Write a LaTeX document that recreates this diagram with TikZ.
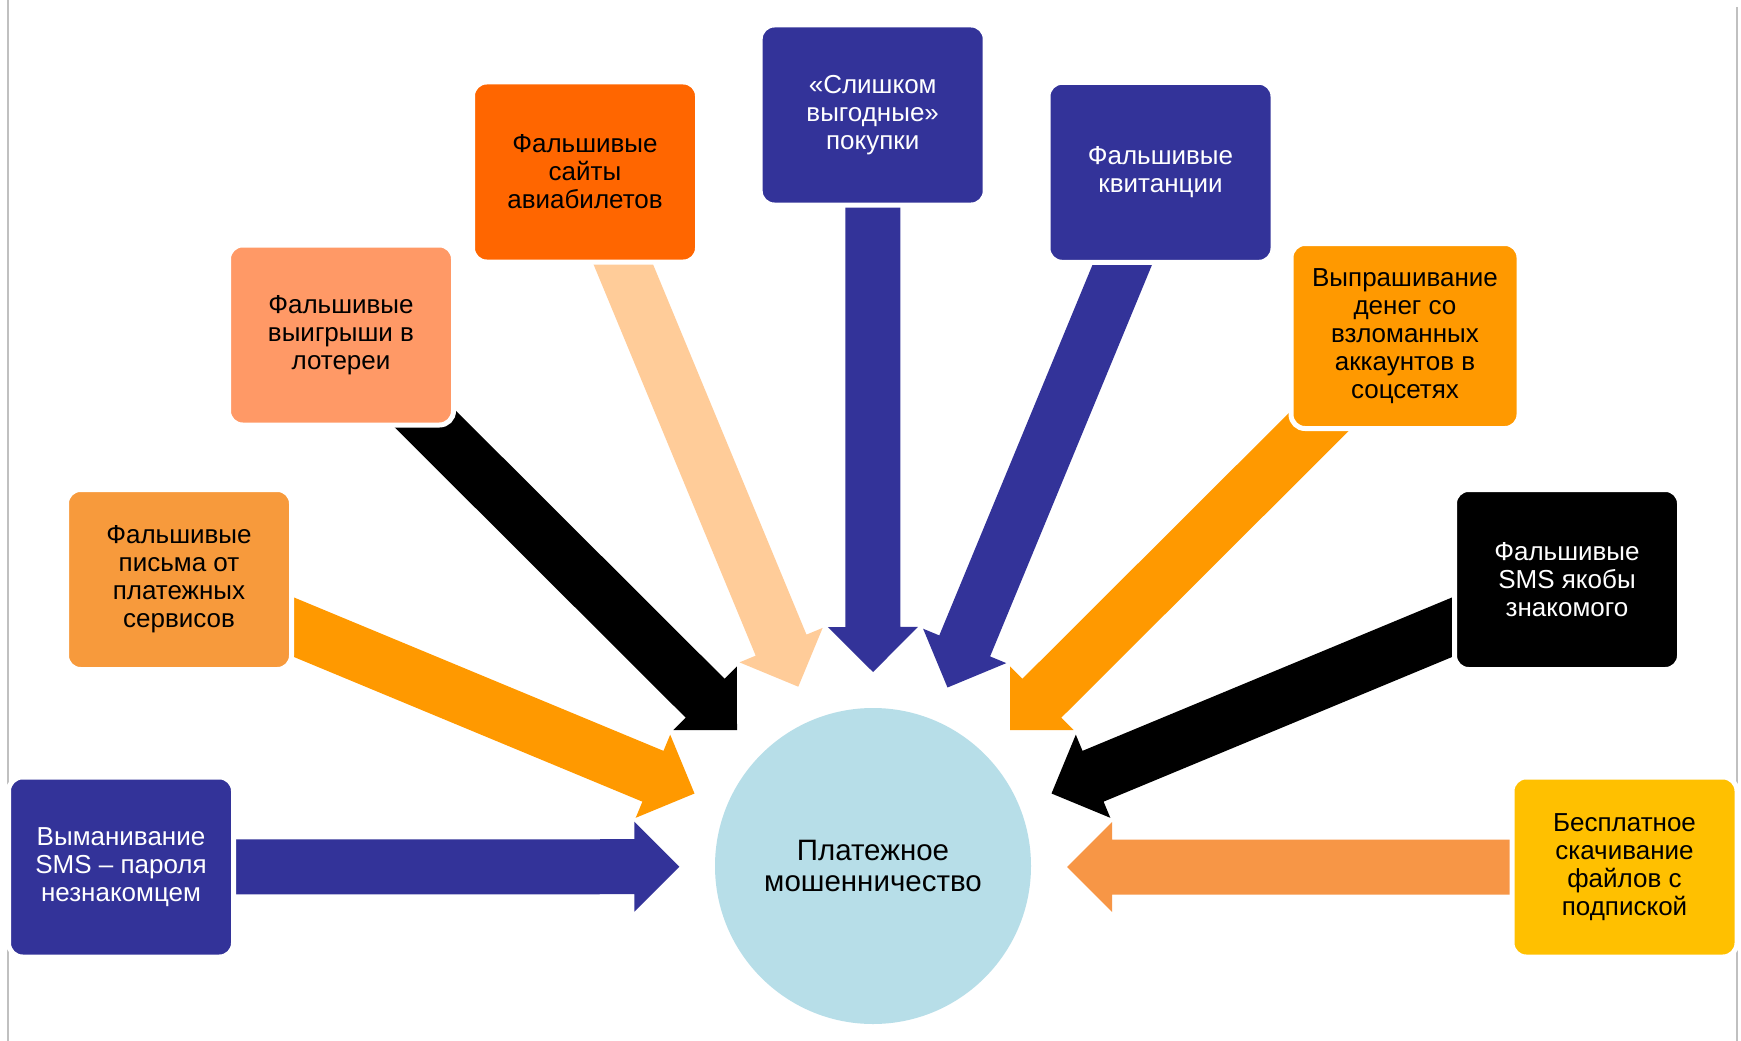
\documentclass[tikz,border=0pt]{standalone}
\usepackage{fontspec}
\setmainfont{Liberation Sans}
\usetikzlibrary{calc}
\definecolor{dblue}{HTML}{333399}
\definecolor{boxorange}{HTML}{F79A3C}
\definecolor{salmon}{HTML}{FF9966}
\definecolor{redorange}{HTML}{FF6600}
\definecolor{amber}{HTML}{FF9900}
\definecolor{gold}{HTML}{FFC000}
\definecolor{peach}{HTML}{FFCC99}
\definecolor{arrorange}{HTML}{F79646}
\definecolor{lblue}{HTML}{B7DEE8}
\definecolor{sideline}{HTML}{C0C0C0}
\pgfdeclarelayer{bg}
\pgfsetlayers{bg,main}
\newcommand\blockarrow[3]{%
  \path ($(#3)!45pt!(#2.center)$) coordinate (hb);
  \fill[#1] (#3) -- ($(hb)!45pt!90:(#3)$) -- ($(hb)!27.5pt!90:(#3)$)
    -- ($(#2.center)!27.5pt!90:(#3)$) -- ($(#2.center)!27.5pt!-90:(#3)$)
    -- ($(hb)!27.5pt!-90:(#3)$) -- ($(hb)!45pt!-90:(#3)$) -- cycle;
}
\begin{document}
\begin{tikzpicture}[x=1pt,y=-1pt,
  box/.style={rectangle, rounded corners=14pt, draw=white, line width=5pt,
    minimum width=225pt, minimum height=180pt, align=center, inner sep=0pt,
    font=\fontsize{26pt}{28pt}\selectfont},
  darkbox/.style={box, text=white},
  lightbox/.style={box, text=black},
  hub/.style={circle, fill=lblue, minimum size=316pt, inner sep=0pt,
    align=center, font=\fontsize{29.5pt}{31pt}\selectfont},
  side/.style={draw=sideline, line width=2pt}]
\useasboundingbox (0,0) rectangle (1741,1041);

% boxes
\node[darkbox, fill=dblue] (b1) at (121,867) {Выманивание\\SMS – пароля\\незнакомцем};
\node[lightbox, fill=boxorange] (b2) at (179,579.5) {Фальшивые\\письма от\\платежных\\сервисов};
\node[lightbox, fill=salmon] (b3) at (341,335) {Фальшивые\\выигрыши в\\лотереи};
\node[lightbox, fill=redorange] (b4) at (585,172) {Фальшивые\\сайты\\авиабилетов};
\node[darkbox, fill=dblue] (b5) at (872.7,115) {«Слишком\\выгодные»\\покупки};
\node[darkbox, fill=dblue] (b6) at (1160.5,172.3) {Фальшивые\\квитанции};
\node[lightbox, fill=amber, minimum width=228pt, minimum height=185pt] (b7) at (1405,336) {Выпрашивание\\денег со\\взломанных\\аккаунтов в\\соцсетях};
\node[darkbox, fill=black] (b8) at (1567,579.5) {Фальшивые\\SMS якобы\\знакомого};
\node[lightbox, fill=gold] (b9) at (1624.5,867) {Бесплатное\\скачивание\\файлов с\\подпиской};

% hub
\node[hub] (c) at (873,866) {Платежное\\мошенничество};

% arrow tips
\coordinate (t1) at (679.4,866.7);
\coordinate (t2) at (694.5,793.5);
\coordinate (t3) at (737,730);
\coordinate (t4) at (798.3,686.7);
\coordinate (t5) at (873,672);
\coordinate (t6) at (947.5,687.5);
\coordinate (t7) at (1010,730);
\coordinate (t8) at (1051.5,793.5);
\coordinate (t9) at (1067,867);

\begin{pgfonlayer}{bg}
  \fill[white] (0,0) rectangle (1741,1041);
  \coordinate (lt) at (8,0);
  \coordinate (lb) at (8,1041);
  \coordinate (rt) at (1737,7);
  \coordinate (rb) at (1737,1041);
  \draw[side] (lt) -- (lb);
  \draw[side] (rt) -- (rb);
  \blockarrow{dblue}{b1}{t1}
  \blockarrow{amber}{b2}{t2}
  \blockarrow{black}{b3}{t3}
  \blockarrow{peach}{b4}{t4}
  \blockarrow{dblue}{b5}{t5}
  \blockarrow{dblue}{b6}{t6}
  \blockarrow{amber}{b7}{t7}
  \blockarrow{black}{b8}{t8}
  \blockarrow{arrorange}{b9}{t9}
\end{pgfonlayer}
\end{tikzpicture}
\end{document}
